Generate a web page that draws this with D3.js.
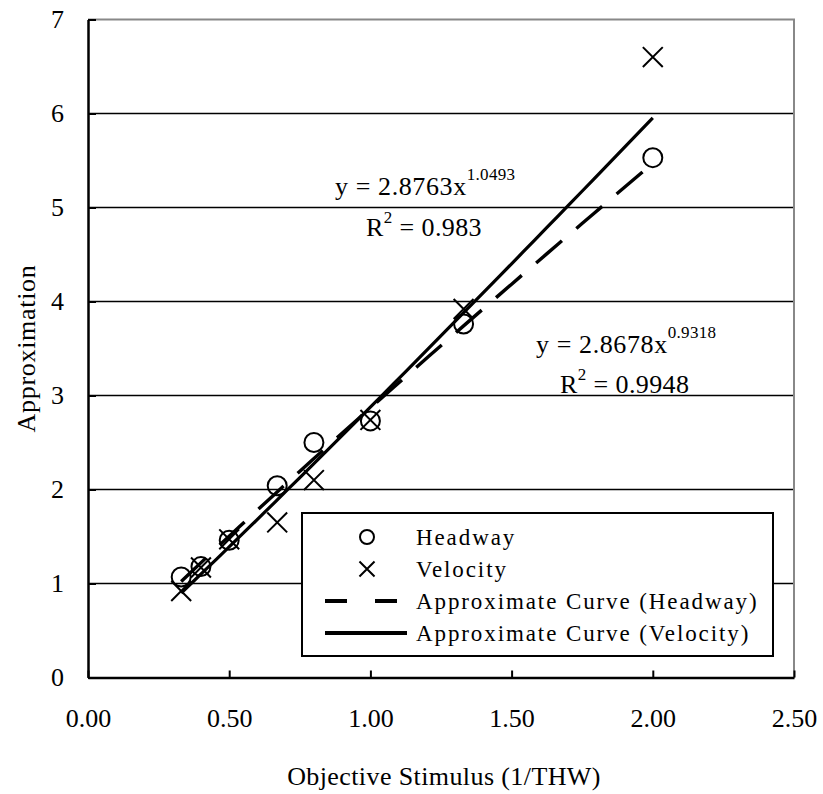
<!DOCTYPE html>
<html>
<head>
<meta charset="utf-8">
<script src="https://cdn.jsdelivr.net/npm/d3@7"></script>
<style>
  body { margin: 0; background: #fff; }
  text { font-family: "Liberation Serif", "Times New Roman", serif; fill: #000; }
</style>
</head>
<body>
<div id="chart"></div>
<script>
// stimulus values (1/THW)
var stimulus      = [0.33, 0.40, 0.50, 0.67, 0.80, 1.00, 1.33, 2.00];
var headway_vals  = [1.07, 1.18, 1.46, 2.04, 2.50, 2.73, 3.76, 5.53];
var velocity_vals = [0.92, 1.17, 1.47, 1.65, 2.10, 2.74, 3.92, 6.60];
// power fits y = a * x^b
var fit_headway  = { a: 2.8678, b: 0.9318, r2: "0.9948" };
var fit_velocity = { a: 2.8763, b: 1.0493, r2: "0.983" };
var x_ticks = [0, 0.5, 1.0, 1.5, 2.0, 2.5];
var y_ticks = [0, 1, 2, 3, 4, 5, 6, 7];
var legend_labels = ["Headway", "Velocity", "Approximate Curve (Headway)", "Approximate Curve (Velocity)"];

var width_chart = 823, height_chart = 794;
var plot_left = 88, plot_right = 794, plot_top = 19.5, plot_bottom = 677.5;

var svg = d3.select("#chart").append("svg")
  .attr("width", width_chart)
  .attr("height", height_chart);

var x = d3.scaleLinear().domain([0, 2.5]).range([plot_left, plot_right]);
var y = d3.scaleLinear().domain([0, 7]).range([plot_bottom, plot_top]);

// gridlines
svg.append("g").selectAll("line")
  .data(y_ticks.filter(function (d) { return d > 0 && d < 7; }))
  .enter().append("line")
  .attr("x1", plot_left).attr("x2", plot_right)
  .attr("y1", function (d) { return y(d); })
  .attr("y2", function (d) { return y(d); })
  .attr("stroke", "#000").attr("stroke-width", 1.5);

// top / right frame (grey)
svg.append("path")
  .attr("d", "M" + plot_left + "," + plot_top + "H" + plot_right + "V" + plot_bottom)
  .attr("fill", "none").attr("stroke", "#888").attr("stroke-width", 2);

// axes
var xAxis = d3.axisBottom(x).tickValues(x_ticks).tickSizeInner(-7).tickSizeOuter(0)
  .tickPadding(26).tickFormat(d3.format(".2f"));
var gx = svg.append("g").attr("transform", "translate(0," + plot_bottom + ")").call(xAxis);
gx.select(".domain").attr("stroke-width", 2.5);
gx.selectAll(".tick line").attr("stroke-width", 2);
gx.selectAll("text").attr("dy", "0.9em").style("font-size", "26px").style("font-family", "Liberation Serif");

var yAxis = d3.axisLeft(y).tickValues(y_ticks).tickSizeInner(-8).tickSizeOuter(0)
  .tickPadding(24).tickFormat(d3.format("d"));
var gy = svg.append("g").attr("transform", "translate(" + plot_left + ",0)").call(yAxis);
gy.select(".domain").attr("stroke-width", 2.5);
gy.selectAll(".tick line").attr("stroke-width", 2);
gy.selectAll("text").style("font-size", "26px").style("font-family", "Liberation Serif");

// fitted curves
function fitPoints(f) {
  var x0 = d3.min(stimulus), x1 = d3.max(stimulus);
  return d3.range(0, 41).map(function (i) {
    var xv = x0 + (x1 - x0) * i / 40;
    return [xv, f.a * Math.pow(xv, f.b)];
  });
}
var line = d3.line()
  .x(function (d) { return x(d[0]); })
  .y(function (d) { return y(d[1]); });

svg.append("path")
  .datum(fitPoints(fit_velocity))
  .attr("d", line)
  .attr("fill", "none").attr("stroke", "#000").attr("stroke-width", 3.2);

svg.append("path")
  .datum(fitPoints(fit_headway))
  .attr("d", line)
  .attr("fill", "none").attr("stroke", "#000").attr("stroke-width", 3.4)
  .attr("stroke-dasharray", "34,19");

// markers
svg.append("g").selectAll("circle")
  .data(stimulus)
  .enter().append("circle")
  .attr("cx", function (d) { return x(d); })
  .attr("cy", function (d, i) { return y(headway_vals[i]); })
  .attr("r", 9.5)
  .attr("fill", "none").attr("stroke", "#000").attr("stroke-width", 2);

var cross = d3.symbol().type(d3.symbolX).size(260);
svg.append("g").selectAll("path")
  .data(stimulus)
  .enter().append("path")
  .attr("d", cross)
  .attr("transform", function (d, i) { return "translate(" + x(d) + "," + y(velocity_vals[i]) + ")"; })
  .attr("fill", "none").attr("stroke", "#000").attr("stroke-width", 2);

// legend
var lg = svg.append("g");
lg.append("rect")
  .attr("x", 302).attr("y", 513).attr("width", 471).attr("height", 143)
  .attr("fill", "#fff").attr("stroke", "#000").attr("stroke-width", 2);
var rowY = [537, 569, 601, 633];
lg.append("circle").attr("cx", 367).attr("cy", rowY[0]).attr("r", 7)
  .attr("fill", "none").attr("stroke", "#000").attr("stroke-width", 2);
lg.append("path").attr("d", d3.symbol().type(d3.symbolX).size(150))
  .attr("transform", "translate(367," + rowY[1] + ")")
  .attr("fill", "none").attr("stroke", "#000").attr("stroke-width", 2);
lg.append("line").attr("x1", 325).attr("x2", 407).attr("y1", rowY[2]).attr("y2", rowY[2])
  .attr("stroke", "#000").attr("stroke-width", 4).attr("stroke-dasharray", "22,28");
lg.append("line").attr("x1", 325).attr("x2", 407).attr("y1", rowY[3]).attr("y2", rowY[3])
  .attr("stroke", "#000").attr("stroke-width", 4);
lg.selectAll("text.lbl")
  .data(legend_labels)
  .enter().append("text")
  .attr("class", "lbl")
  .attr("x", 416)
  .attr("y", function (d, i) { return rowY[i] + 8; })
  .style("font-size", "23px")
  .style("letter-spacing", "1.9px")
  .text(function (d) { return d; });

// equation labels
function equation(f, ex, ey, rx, ry) {
  var t = svg.append("text").attr("x", ex).attr("y", ey)
    .style("font-size", "26px").style("letter-spacing", "0.6px");
  t.append("tspan").text("y = " + f.a.toFixed(4) + "x");
  t.append("tspan").attr("dy", -15).style("font-size", "17px").style("letter-spacing", "0.3px")
    .text(f.b.toFixed(4));
  var r = svg.append("text").attr("x", rx).attr("y", ry)
    .style("font-size", "26px").style("letter-spacing", "0.4px");
  r.append("tspan").text("R");
  r.append("tspan").attr("dy", -13).style("font-size", "17px").text("2");
  r.append("tspan").attr("dy", 13).text(" = " + f.r2);
}
equation(fit_velocity, 335, 195, 366, 236);
equation(fit_headway, 536, 353, 560, 393);

// axis titles
svg.append("text")
  .attr("x", (plot_left + plot_right) / 2 + 3).attr("y", 785)
  .attr("text-anchor", "middle")
  .style("font-size", "26px")
  .style("letter-spacing", "0.4px")
  .text("Objective Stimulus (1/THW)");
svg.append("text")
  .attr("transform", "translate(35," + ((plot_top + plot_bottom) / 2) + ") rotate(-90)")
  .attr("text-anchor", "middle")
  .style("font-size", "26px")
  .style("letter-spacing", "0.7px")
  .text("Approximation");
</script>
</body>
</html>
